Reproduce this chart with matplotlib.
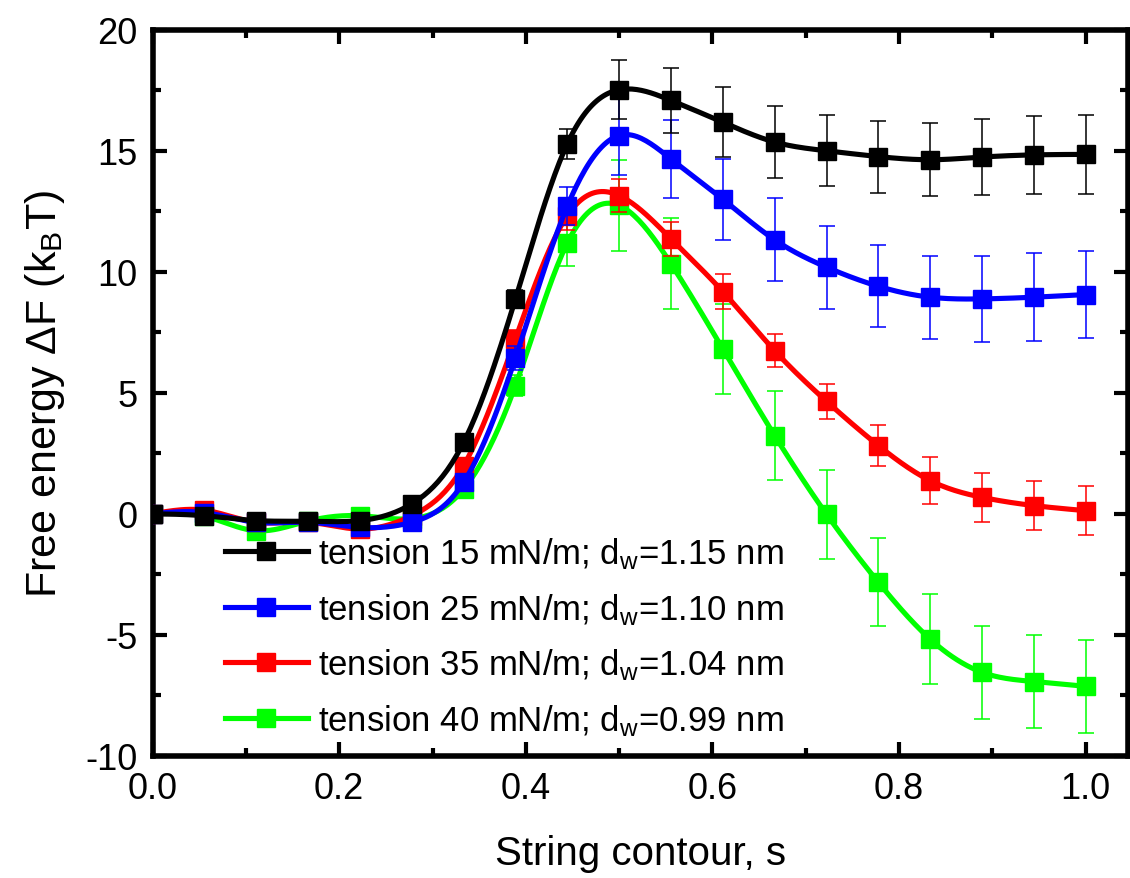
import numpy as np
import matplotlib
matplotlib.use("Agg")
import matplotlib.pyplot as plt
from matplotlib.lines import Line2D
from matplotlib.ticker import MultipleLocator

plt.rcParams["font.family"] = ["Liberation Sans", "DejaVu Sans"]
plt.rcParams["mathtext.fontset"] = "custom"
plt.rcParams["mathtext.rm"] = "Liberation Sans"
plt.rcParams["mathtext.it"] = "Liberation Sans:italic"
plt.rcParams["axes.unicode_minus"] = False

# string contour images
s = np.linspace(0, 1, 19)

f15 = [0, -0.08, -0.28, -0.31, -0.28, 0.41, 2.95, 8.88, 15.29, 17.52, 17.08, 16.18,
       15.36, 15.0, 14.76, 14.63, 14.74, 14.83, 14.85]
e15 = [0.05, 0.1, 0.1, 0.1, 0.1, 0.15, 0.25, 0.35, 0.62, 1.22, 1.34, 1.44,
       1.47, 1.47, 1.49, 1.5, 1.56, 1.6, 1.62]

f25 = [0, 0.05, -0.35, -0.35, -0.56, -0.35, 1.3, 6.44, 12.71, 15.63, 14.66, 13.0,
       11.32, 10.19, 9.4, 8.95, 8.88, 8.95, 9.06]
e25 = [0.05, 0.1, 0.1, 0.1, 0.15, 0.2, 0.3, 0.5, 0.79, 1.65, 1.63, 1.67,
       1.72, 1.71, 1.7, 1.72, 1.78, 1.82, 1.8]

f35 = [0, 0.15, -0.35, -0.35, -0.63, -0.08, 1.99, 7.23, 12.32, 13.15, 11.36, 9.18,
       6.74, 4.65, 2.82, 1.37, 0.68, 0.34, 0.13]
e35 = [0.05, 0.1, 0.1, 0.1, 0.15, 0.15, 0.25, 0.35, 0.6, 0.7, 0.7, 0.72,
       0.68, 0.72, 0.84, 0.96, 1.0, 1.0, 1.0]

f40 = [0, -0.1, -0.7, -0.3, -0.08, -0.2, 1.02, 5.3, 11.19, 12.74, 10.33, 6.81,
       3.23, -0.02, -2.83, -5.18, -6.55, -6.93, -7.13]
e40 = [0.05, 0.1, 0.1, 0.1, 0.15, 0.2, 0.3, 0.45, 0.96, 1.87, 1.88, 1.87,
       1.84, 1.83, 1.81, 1.85, 1.91, 1.92, 1.93]

labels = [r"tension 15 mN/m; d$_{\mathrm{w}}$=1.15 nm",
          r"tension 25 mN/m; d$_{\mathrm{w}}$=1.10 nm",
          r"tension 35 mN/m; d$_{\mathrm{w}}$=1.04 nm",
          r"tension 40 mN/m; d$_{\mathrm{w}}$=0.99 nm"]
colors = ["black", "#0000ff", "#ff0000", "#00ff00"]


def natural_spline(x, y, n=400):
    x = np.asarray(x, float)
    y = np.asarray(y, float)
    h = np.diff(x)
    m = len(x)
    A = np.zeros((m, m))
    b = np.zeros(m)
    A[0, 0] = A[-1, -1] = 1
    for i in range(1, m - 1):
        A[i, i - 1] = h[i - 1]
        A[i, i] = 2 * (h[i - 1] + h[i])
        A[i, i + 1] = h[i]
        b[i] = 6 * ((y[i + 1] - y[i]) / h[i] - (y[i] - y[i - 1]) / h[i - 1])
    M = np.linalg.solve(A, b)
    xs = np.linspace(x[0], x[-1], n)
    k = np.clip(np.searchsorted(x, xs) - 1, 0, m - 2)
    t0 = x[k + 1] - xs
    t1 = xs - x[k]
    hk = h[k]
    ys = (M[k] * t0**3 + M[k + 1] * t1**3) / (6 * hk) \
        + (y[k] / hk - M[k] * hk / 6) * t0 + (y[k + 1] / hk - M[k + 1] * hk / 6) * t1
    return xs, ys


fig, ax = plt.subplots(figsize=(11.3, 8.79), dpi=100)
fig.subplots_adjust(left=0.135, right=0.998, top=0.965, bottom=0.139)

series = [(f15, e15), (f25, e25), (f35, e35), (f40, e40)]
# draw green first, black last
for (f, e), c, z in zip(series[::-1], colors[::-1], [2, 3, 4, 5]):
    ax.errorbar(s, f, yerr=e, fmt="none", ecolor=c, elinewidth=1.1,
                capsize=5.5, capthick=1.1, zorder=z)
    xs, ys = natural_spline(s, f)
    ax.plot(xs, ys, color=c, lw=3.7, zorder=z)
    ax.plot(s, f, "s", color=c, ms=12.5, zorder=z)

handles = [Line2D([0], [0], color=c, lw=3.7, marker="s", ms=12.5) for c in colors]
ax.legend(handles, labels, loc="lower left", bbox_to_anchor=(0.074, 0.025),
          frameon=False, fontsize=25, borderpad=0, borderaxespad=0,
          handlelength=2.4, handletextpad=0.3, labelspacing=0.57)

ax.set_xlim(0, 1.045)
ax.set_ylim(-10, 20)
ax.xaxis.set_major_locator(MultipleLocator(0.2))
ax.xaxis.set_minor_locator(MultipleLocator(0.1))
ax.yaxis.set_major_locator(MultipleLocator(5))
ax.yaxis.set_minor_locator(MultipleLocator(2.5))
ax.set_xticks([0, 0.2, 0.4, 0.6, 0.8, 1.0])
ax.set_xticklabels(["0.0", "0.2", "0.4", "0.6", "0.8", "1.0"])

ax.tick_params(which="both", direction="in", top=True, right=True,
               labelsize=26, width=3, pad=11)
ax.tick_params(which="major", length=10)
ax.tick_params(which="minor", length=6)
for sp in ax.spines.values():
    sp.set_linewidth(4)

ax.set_xlabel("String contour, s", fontsize=29, labelpad=20)
ax.set_ylabel(r"Free energy $\Delta$F (k$_{\mathrm{B}}$T)", fontsize=31, labelpad=13)

fig.savefig("out.png", dpi=100)
